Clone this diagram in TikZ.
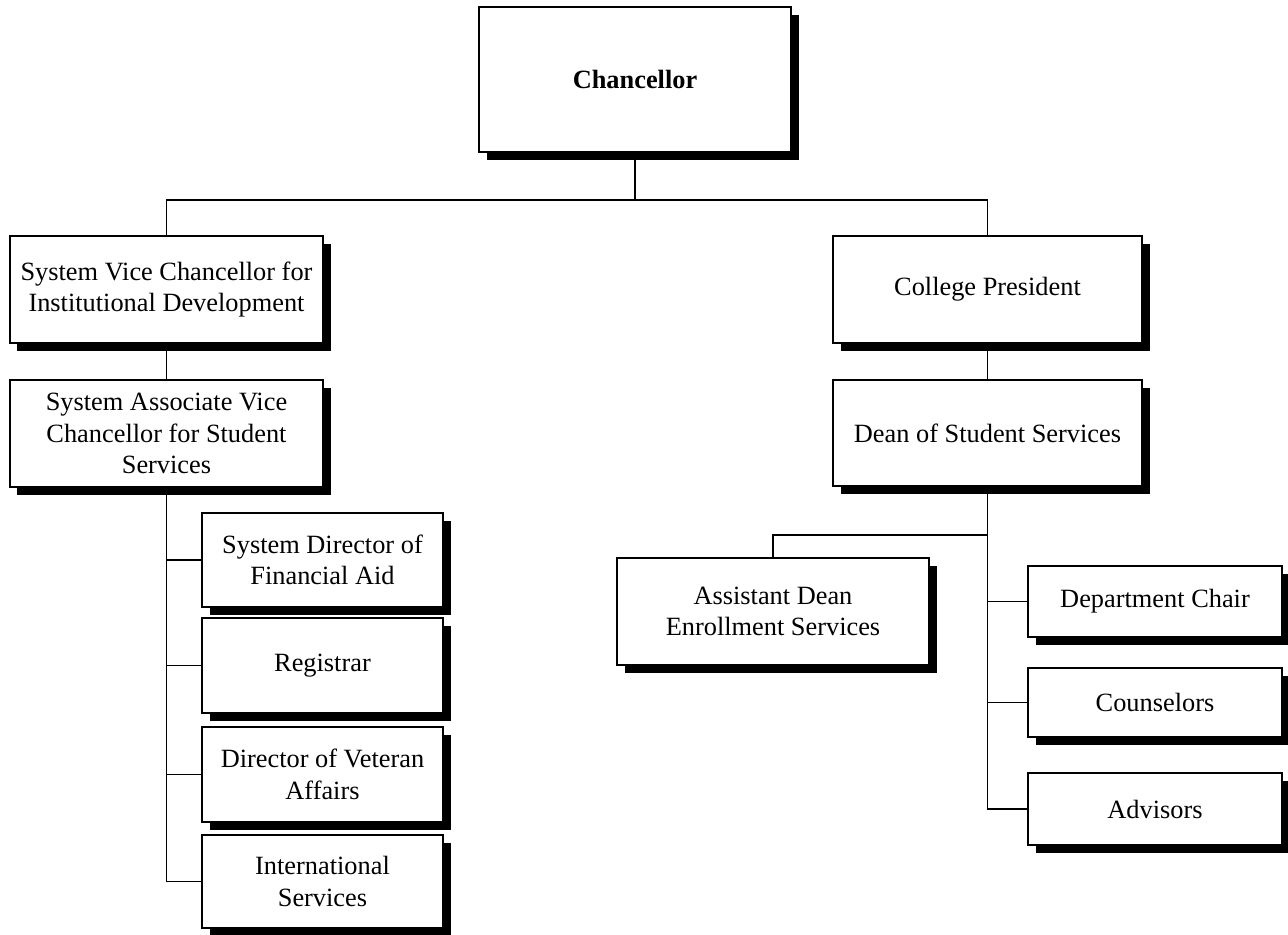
\documentclass[tikz,border=0pt]{standalone}
\usepackage{fontspec}
\setmainfont{Liberation Serif}
\usetikzlibrary{shadows}
\newcommand{\chartScale}[0]{0.02cm}

\begin{document}
\begin{tikzpicture}[x=\chartScale, y=-\chartScale, line width=1pt]
  \tikzset{post/.style={draw, fill=white, align=center, inner sep=0pt,
      font=\fontsize{15}{18}\selectfont,
      drop shadow={shadow xshift=0.15cm, shadow yshift=-0.15cm, fill=black, opacity=1}},
    postsize/.style 2 args={minimum width=#1*\chartScale, minimum height=#2*\chartScale}}
  \useasboundingbox (0,0) rectangle (1288,934);
  \node[post, postsize={312}{145}] (chan) at (635,79.5) {\textbf{Chancellor}};
  \node[post, postsize={313}{107}] (svc) at (166.5,289.5) {System Vice Chancellor for\\Institutional Development};
  \node[post, postsize={309}{107}] (pres) at (987.5,289.5) {College President};
  \node[post, postsize={313}{107}] (savc) at (166.5,433.5) {System Associate Vice\\Chancellor for Student\\Services};
  \node[post, postsize={309}{106}] (dean) at (987.5,433) {Dean of Student Services};
  \node[post, postsize={241}{94}] (finaid) at (322.5,560) {System Director of\\Financial Aid};
  \node[post, postsize={241}{95}] (registrar) at (322.5,665.5) {Registrar};
  \node[post, postsize={241}{95}] (veteran) at (322.5,774.5) {Director of Veteran\\Affairs};
  \node[post, postsize={241}{93}] (intl) at (322.5,881.5) {International\\Services};
  \node[post, postsize={312}{107}] (asst) at (773,611.5) {Assistant Dean\\Enrollment Services};
  \node[post, postsize={254}{71}] (chair) at (1155,601.5) {Department Chair};
  \node[post, postsize={254}{69}] (couns) at (1155,702.5) {Counselors};
  \node[post, postsize={254}{72}] (advis) at (1155,809) {Advisors};
  \coordinate (bus) at (635,200);
  \draw (chan.south) -- (bus);
  \draw (svc.north) |- (bus) -| (pres.north);
  \draw (svc.south) -- (savc.north);
  \draw (pres.south) -- (dean.north);
  \draw (savc.south) |- (intl.west);
  \draw (savc.south |- finaid.west) -- (finaid.west);
  \draw (savc.south |- registrar.west) -- (registrar.west);
  \draw (savc.south |- veteran.west) -- (veteran.west);
  \draw (dean.south) |- (advis.west);
  \draw (dean.south |- chair.west) -- (chair.west);
  \draw (dean.south |- couns.west) -- (couns.west);
  \draw (asst.north) -- ++(0,-22) -| (dean.south);
\end{tikzpicture}
\end{document}
